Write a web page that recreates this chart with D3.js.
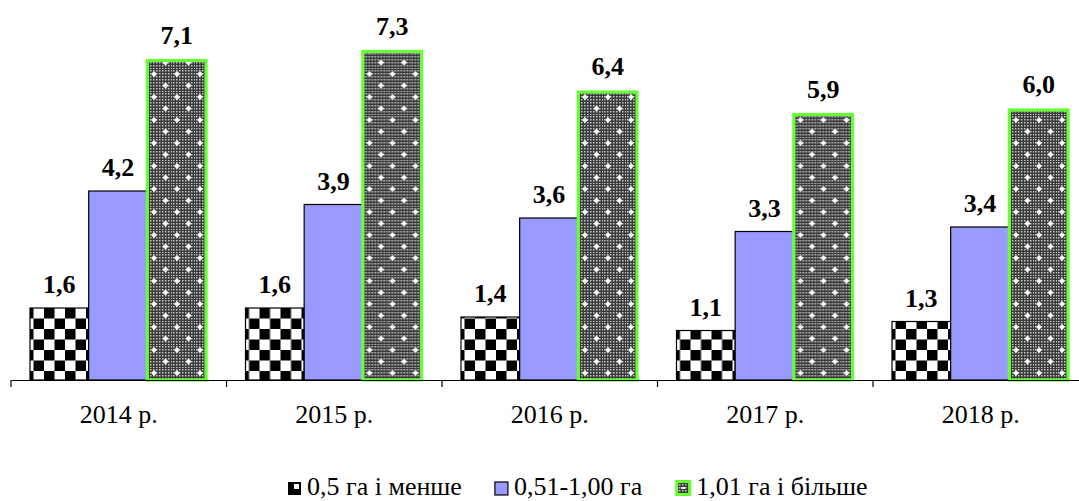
<!DOCTYPE html>
<html>
<head>
<meta charset="utf-8">
<script src="https://cdn.jsdelivr.net/npm/d3@7/dist/d3.min.js"></script>
<style>
  html, body { margin: 0; padding: 0; background: #fff; }
  svg { display: block; }
  svg text { font-family: "Liberation Serif", "DejaVu Serif", serif !important; fill: #000; }
</style>
</head>
<body>
<svg id="chart" width="1079" height="501"></svg>
<script>
const categories = ["2014 р.", "2015 р.", "2016 р.", "2017 р.", "2018 р."];
const seriesNames = ["0,5 га і менше", "0,51-1,00 га", "1,01 га і більше"];
const small = [1.6, 1.6, 1.4, 1.1, 1.3];
const medium = [4.2, 3.9, 3.6, 3.3, 3.4];
const large = [7.1, 7.3, 6.4, 5.9, 6.0];
const seriesValues = [small, medium, large];

const FONT = "'Liberation Serif', 'DejaVu Serif', serif";
const svg = d3.select("#chart");
const baseY = 380;

const defs = svg.append("defs");
const chk = defs.append("pattern").attr("id", "checker").attr("patternUnits", "userSpaceOnUse")
  .attr("width", 21).attr("height", 21).attr("x", 30).attr("y", 308);
chk.append("rect").attr("width", 21).attr("height", 21).attr("fill", "#fff");
chk.append("rect").attr("x", 3).attr("y", 0).attr("width", 10.5).attr("height", 10.5).attr("fill", "#000");
chk.append("rect").attr("x", 13.5).attr("y", 10.5).attr("width", 10.5).attr("height", 10.5).attr("fill", "#000");
chk.append("rect").attr("x", -7.5).attr("y", 10.5).attr("width", 10.5).attr("height", 10.5).attr("fill", "#000");

const fine = defs.append("pattern").attr("id", "fine").attr("patternUnits", "userSpaceOnUse")
  .attr("width", 3).attr("height", 3);
fine.append("rect").attr("width", 3).attr("height", 3).attr("fill", "#3a3a3a");
fine.append("rect").attr("x", 1).attr("y", 1).attr("width", 1.5).attr("height", 1.5).attr("fill", "#c8c8c8");

const dot = defs.append("pattern").attr("id", "dotted").attr("patternUnits", "userSpaceOnUse")
  .attr("width", 23).attr("height", 23);
dot.append("rect").attr("width", 23).attr("height", 23).attr("fill", "url(#fine)");
[[5, 5], [16.5, 16.5]].forEach(([cx, cy]) => {
  dot.append("circle").attr("cx", cx).attr("cy", cy).attr("r", 2.2).attr("fill", "#ddd");
  dot.append("rect").attr("x", cx - 0.8).attr("y", cy - 2.5).attr("width", 1.6).attr("height", 5).attr("fill", "#fff");
  dot.append("rect").attr("x", cx - 2.5).attr("y", cy - 0.8).attr("width", 5).attr("height", 1.6).attr("fill", "#fff");
});

const x = d3.scaleBand().domain(categories).range([11, 11 + 5 * 215.5]).paddingInner(0).paddingOuter(0);
const xs = d3.scaleBand().domain(d3.range(3)).range([19, 195]).paddingInner(0);
const y = d3.scaleLinear().domain([0, 8]).range([baseY, baseY - 8 * 45]);

const fills = ["url(#checker)", "#9999ff", "url(#dotted)"];
const strokes = ["#000", "#000", "#66ff33"];
const strokeW = [1.2, 1.2, 3.2];

const groups = svg.append("g").selectAll("g").data(categories).join("g")
  .attr("transform", d => `translate(${x(d)},0)`);

groups.each(function(cat, ci) {
  const g = d3.select(this);
  seriesValues.forEach((vals, si) => {
    const v = vals[ci];
    g.append("rect")
      .attr("x", xs(si))
      .attr("y", y(v))
      .attr("width", xs.bandwidth())
      .attr("height", baseY - y(v))
      .attr("fill", fills[si])
      .attr("stroke", strokes[si])
      .attr("stroke-width", strokeW[si]);
    g.append("text")
      .attr("x", xs(si) + xs.bandwidth() / 2)
      .attr("y", y(v) - (si === 2 ? 17 : 15))
      .attr("text-anchor", "middle")
      .attr("font-family", FONT)
      .attr("font-weight", "bold")
      .attr("font-size", 26)
      .text(v.toFixed(1).replace(".", ","));
  });
});

const axis = d3.axisBottom(x).tickSize(0).tickFormat(d => d);
const ax = svg.append("g").attr("transform", `translate(0,${baseY})`).call(axis)
  .attr("font-family", FONT);
ax.select(".domain").attr("stroke", "#000").attr("stroke-width", 1.2);
ax.selectAll(".tick text").attr("font-size", 26).attr("dy", 0).attr("y", 43)
  .attr("font-family", FONT).attr("fill", "#000");
const bounds = categories.map(c => x(c)).concat([x(categories[4]) + x.bandwidth()]);
svg.append("g").selectAll("line").data(bounds).join("line")
  .attr("x1", d => d).attr("x2", d => d).attr("y1", baseY).attr("y2", baseY + 7)
  .attr("stroke", "#000").attr("stroke-width", 1.2);

const leg = svg.append("g");
let lx = 288;
const ly = 495;
seriesNames.forEach((name, si) => {
  if (si === 0) {
    leg.append("rect").attr("x", lx).attr("y", 482).attr("width", 13).attr("height", 13).attr("fill", "#000");
    leg.append("rect").attr("x", lx + 6).attr("y", 484).attr("width", 5).attr("height", 5).attr("fill", "#fff");
  } else if (si === 1) {
    leg.append("rect").attr("x", lx).attr("y", 482).attr("width", 13).attr("height", 13)
      .attr("fill", "#9999ff").attr("stroke", "#000").attr("stroke-width", 1.2);
  } else {
    leg.append("rect").attr("x", lx).attr("y", 480).attr("width", 16).attr("height", 16).attr("fill", "#66ff33");
    leg.append("rect").attr("x", lx + 3).attr("y", 483).attr("width", 10).attr("height", 10).attr("fill", "url(#fine)");
    leg.append("rect").attr("x", lx + 6).attr("y", 487).attr("width", 4).attr("height", 2).attr("fill", "#fff");
  }
  const t = leg.append("text").attr("x", lx + (si === 2 ? 21 : 19)).attr("y", ly)
    .attr("font-family", FONT).attr("font-size", 26).text(name);
  const w = t.node().getComputedTextLength();
  lx = lx + (si === 2 ? 21 : 19) + w + 33;
});
</script>
</body>
</html>
